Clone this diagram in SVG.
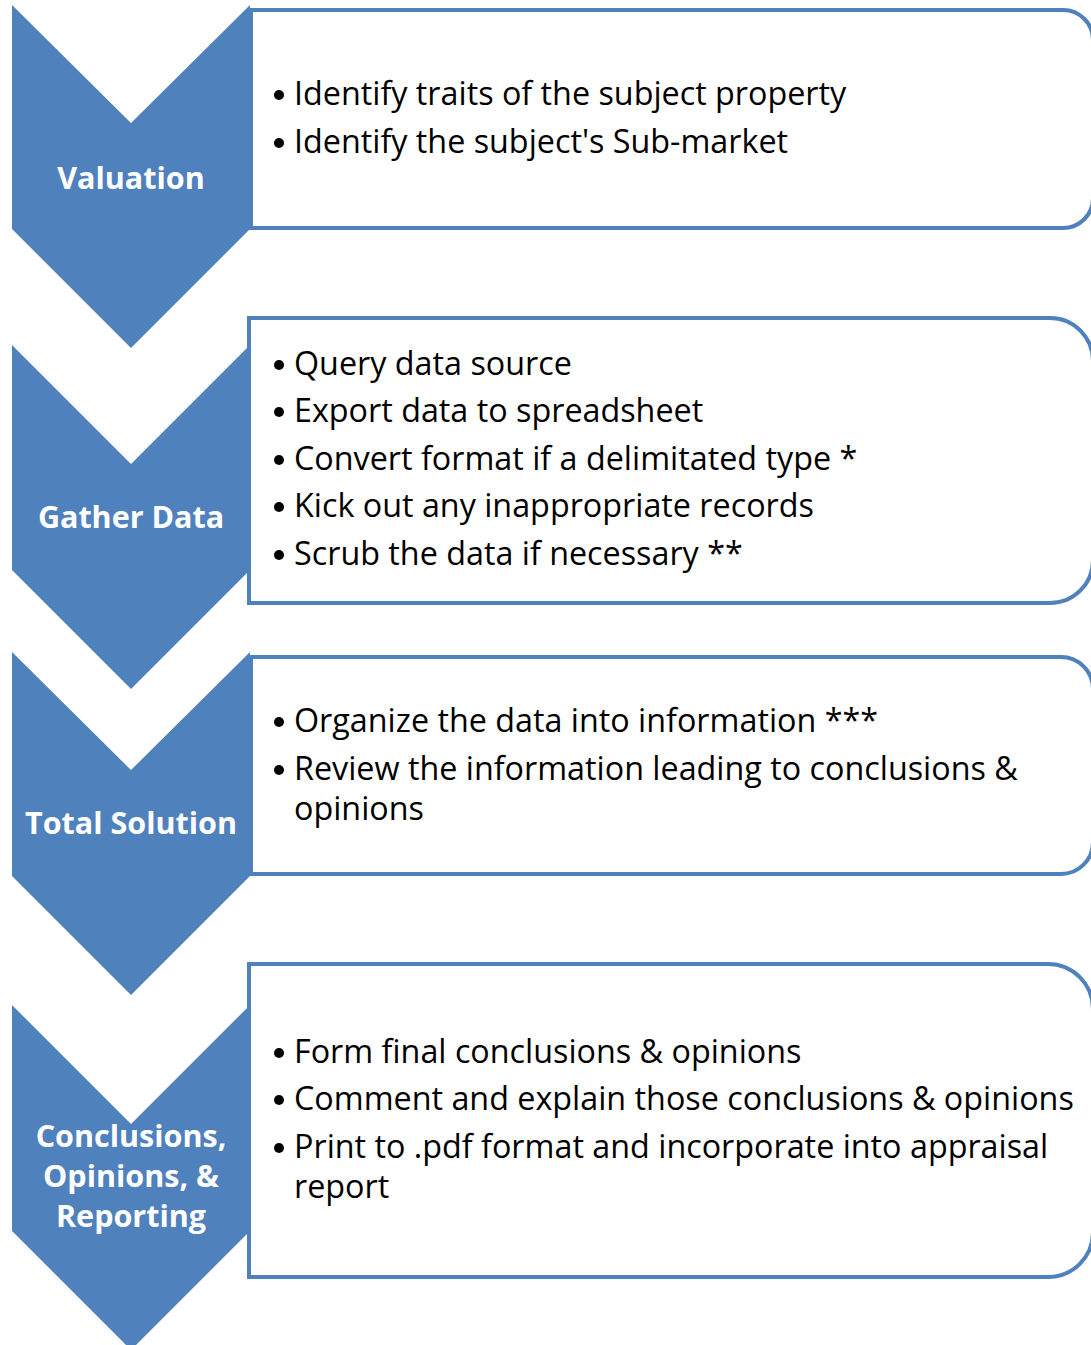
<svg xmlns="http://www.w3.org/2000/svg" width="1091" height="1345" viewBox="0 0 1091 1345">
<style>
.chev{fill:#4F81BD;}
.box{fill:#FFFFFF;stroke:#4F81BD;stroke-width:4;}
.lbl{font-family:"Open Sans","Liberation Sans",sans-serif;font-weight:bold;font-size:30.5px;fill:#FFFFFF;text-anchor:middle;}
.txt{font-family:"Open Sans","Liberation Sans",sans-serif;font-size:32.3px;fill:#000000;}
.bul{fill:#000000;}
</style>
<rect width="1091" height="1345" fill="#FFFFFF"/>
<g id="connectors"></g>
<g id="step1">
<path class="chev" d="M12,5 L131,123 L250,5 L250,229 L131,348 L12,229 Z"/>
<path class="box" d="M251,10 H1063 A30,30 0 0 1 1093,40 V198 A30,30 0 0 1 1063,228 H251 Z"/>
<text class="lbl" x="131" y="189">Valuation</text>
<circle class="bul" cx="279" cy="95" r="5"/>
<text class="txt" x="294" y="105">Identify traits of the subject property</text>
<circle class="bul" cx="279" cy="143" r="5"/>
<text class="txt" x="294" y="153">Identify the subject's Sub-market</text>
</g>
<g id="step2">
<path class="chev" d="M12,345 L131,464 L250,345 L250,570 L131,689 L12,570 Z"/>
<path class="box" d="M249,318 H1050 A43,43 0 0 1 1093,361 V560 A43,43 0 0 1 1050,603 H249 Z"/>
<text class="lbl" x="131" y="528">Gather Data</text>
<circle class="bul" cx="279" cy="365" r="5"/>
<text class="txt" x="294" y="375">Query data source</text>
<circle class="bul" cx="279" cy="412" r="5"/>
<text class="txt" x="294" y="422">Export data to spreadsheet</text>
<circle class="bul" cx="279" cy="460" r="5"/>
<text class="txt" x="294" y="470">Convert format if a delimitated type *</text>
<circle class="bul" cx="279" cy="507" r="5"/>
<text class="txt" x="294" y="517">Kick out any inappropriate records</text>
<circle class="bul" cx="279" cy="555" r="5"/>
<text class="txt" x="294" y="565">Scrub the data if necessary **</text>
</g>
<g id="step3">
<path class="chev" d="M12,652 L131,770 L250,652 L250,876 L131,995 L12,876 Z"/>
<path class="box" d="M251,657 H1061 A32,32 0 0 1 1093,689 V842 A32,32 0 0 1 1061,874 H251 Z"/>
<text class="lbl" x="131" y="834">Total Solution</text>
<circle class="bul" cx="279" cy="722" r="5"/>
<text class="txt" x="294" y="732">Organize the data into information ***</text>
<circle class="bul" cx="279" cy="770" r="5"/>
<text class="txt" x="294" y="780">Review the information leading to conclusions &amp;</text>
<text class="txt" x="294" y="820">opinions</text>
</g>
<g id="step4">
<path class="chev" d="M12,1005 L131,1124 L250,1005 L250,1231 L131,1350 L12,1231 Z"/>
<path class="box" d="M249,964 H1048 A45,45 0 0 1 1093,1009 V1232 A45,45 0 0 1 1048,1277 H249 Z"/>
<text class="lbl" x="131" y="1147">Conclusions,</text>
<text class="lbl" x="131" y="1187">Opinions, &amp;</text>
<text class="lbl" x="131" y="1227">Reporting</text>
<circle class="bul" cx="279" cy="1053" r="5"/>
<text class="txt" x="294" y="1063">Form final conclusions &amp; opinions</text>
<circle class="bul" cx="279" cy="1100" r="5"/>
<text class="txt" x="294" y="1110">Comment and explain those conclusions &amp; opinions</text>
<circle class="bul" cx="279" cy="1148" r="5"/>
<text class="txt" x="294" y="1158">Print to .pdf format and incorporate into appraisal</text>
<text class="txt" x="294" y="1198">report</text>
</g>
</svg>
